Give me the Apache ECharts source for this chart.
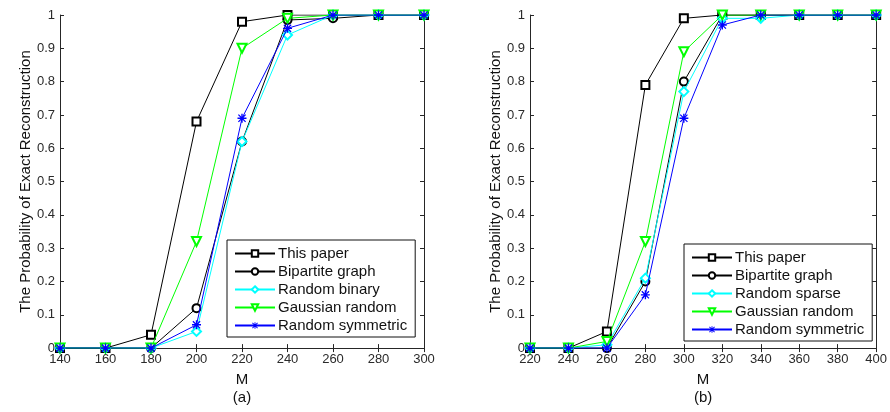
<!DOCTYPE html>
<html><head><meta charset="utf-8">
<script src="https://cdn.jsdelivr.net/npm/echarts@6/dist/echarts.min.js"></script>
<style>html,body{margin:0;padding:0;background:#fff}#c{width:890px;height:412px}</style>
</head><body><div id="c"></div>
<script>
// ---- data ----
const mA = [140,160,180,200,220,240,260,280,300];
const aThisPaper = [0,0,0.04,0.68,0.98,1,1,1,1];
const aBipartite = [0,0,0,0.12,0.62,0.985,0.99,1,1];
const aRandomBinary = [0,0,0,0.05,0.62,0.94,1,1,1];
const aGaussian = [0,0,0,0.32,0.90,0.99,1,1,1];
const aSymmetric = [0,0,0,0.07,0.69,0.96,1,1,1];

const mB = [220,240,260,280,300,320,340,360,380,400];
const bThisPaper = [0,0,0.05,0.79,0.99,1,1,1,1,1];
const bBipartite = [0,0,0,0.2,0.80,1,1,1,1,1];
const bRandomSparse = [0,0,0.01,0.21,0.77,0.99,0.99,1,1,1];
const bGaussian = [0,0,0.02,0.32,0.89,1,1,1,1,1];
const bSymmetric = [0,0,0,0.16,0.69,0.97,1,1,1,1];

const namesA = ['This paper','Bipartite graph','Random binary','Gaussian random','Random symmetric'];
const namesB = ['This paper','Bipartite graph','Random sparse','Gaussian random','Random symmetric'];
const yTitle = 'The Probability of Exact Reconstruction';

// ---- styles ----
const FONT = '"Liberation Sans", Arial, sans-serif';
const AX = '#262626';
const star = 'path://M8.5 0L11.5 0L11.5 20L8.5 20ZM0 8.5L20 8.5L20 11.5L0 11.5ZM1 3L3 1L19 17L17 19ZM17 1L19 3L3 19L1 17Z';
const styles = [
  {color:'#000000', symbol:'emptyRect', size:8},
  {color:'#000000', symbol:'emptyCircle', size:8},
  {color:'#00FFFF', symbol:'emptyDiamond', size:9},
  {color:'#00FF00', symbol:'emptyTriangle', size:9, rotate:180},
  {color:'#0000FF', symbol:star, size:9}
];

function pairs(xs, ys){ return xs.map((x,i)=>[x, ys[i]]); }

function mkSeries(names, xs, arrs, idx){
  return arrs.map((ys,i)=>({
    type:'line', name:names[i], xAxisIndex:idx, yAxisIndex:idx,
    data:pairs(xs, ys),
    symbol:styles[i].symbol, symbolSize:styles[i].size, symbolRotate:styles[i].rotate||0,
    lineStyle:{color:styles[i].color, width:1},
    itemStyle:{color:styles[i].color, borderWidth:1},
    color:styles[i].color,
    emphasis:{disabled:true}, animation:false, z:2+i
  }));
}

function xAxes(gi, min, max, name){
  return [{
    type:'value', gridIndex:gi, min:min, max:max, interval:20, position:'bottom',
    name:name, nameLocation:'middle', nameGap:20,
    nameTextStyle:{fontFamily:FONT, fontSize:15, color:'#111', lineHeight:18, verticalAlign:'top'},
    axisLine:{show:true, lineStyle:{color:AX, width:1}},
    axisTick:{show:true, inside:true, length:4, lineStyle:{color:AX}},
    axisLabel:{fontFamily:FONT, fontSize:13, color:'#2a2a2a', margin:5},
    splitLine:{show:false}
  },{
    type:'value', gridIndex:gi, min:min, max:max, interval:20, position:'top',
    axisLine:{show:true, lineStyle:{color:AX, width:1}},
    axisTick:{show:true, inside:true, length:4, lineStyle:{color:AX}},
    axisLabel:{show:false}, splitLine:{show:false}
  }];
}
function yAxes(gi){
  return [{
    type:'value', gridIndex:gi, min:0, max:1, interval:0.1, position:'left',
    name:yTitle, nameLocation:'middle', nameGap:27,
    nameTextStyle:{fontFamily:FONT, fontSize:15, color:'#111'},
    axisLine:{show:true, lineStyle:{color:AX, width:1}},
    axisTick:{show:true, inside:true, length:4, lineStyle:{color:AX}},
    axisLabel:{fontFamily:FONT, fontSize:13, color:'#2a2a2a', margin:5,
      formatter:v=>String(Math.round(v*10)/10)},
    splitLine:{show:false}
  },{
    type:'value', gridIndex:gi, min:0, max:1, interval:0.1, position:'right',
    axisLine:{show:true, lineStyle:{color:AX, width:1}},
    axisTick:{show:true, inside:true, length:4, lineStyle:{color:AX}},
    axisLabel:{show:false}, splitLine:{show:false}
  }];
}

function legend(names, left, top){
  return {
    data:names, orient:'vertical', left:left, top:top,
    backgroundColor:'#fff', borderColor:'#111', borderWidth:1,
    padding:[6,8,4,7], itemGap:3, itemWidth:40, itemHeight:8,
    textStyle:{fontFamily:FONT, fontSize:15, color:'#111', padding:[0,0,0,-2]},
    selectedMode:false
  };
}

const chart = echarts.init(document.getElementById('c'), null, {renderer:'canvas'});
const xa = xAxes(0,140,300,'M\n(a)'), xb = xAxes(1,220,400,'M\n(b)');
const ya = yAxes(0), yb = yAxes(1);
chart.setOption({
  animation:false,
  grid:[{left:60, top:15, width:364, height:340},{left:530, top:15, width:349, height:340}],
  xAxis:[xa[0], xa[1], xb[0], xb[1]],
  yAxis:[ya[0], ya[1], yb[0], yb[1]],
  legend:[legend(namesA,227,240), legend(namesB,684,244)],
  series:[
    ...mkSeries(namesA, mA, [aThisPaper,aBipartite,aRandomBinary,aGaussian,aSymmetric], 0),
    ...mkSeries(namesB, mB, [bThisPaper,bBipartite,bRandomSparse,bGaussian,bSymmetric], 2)
  ]
});
</script></body></html>
